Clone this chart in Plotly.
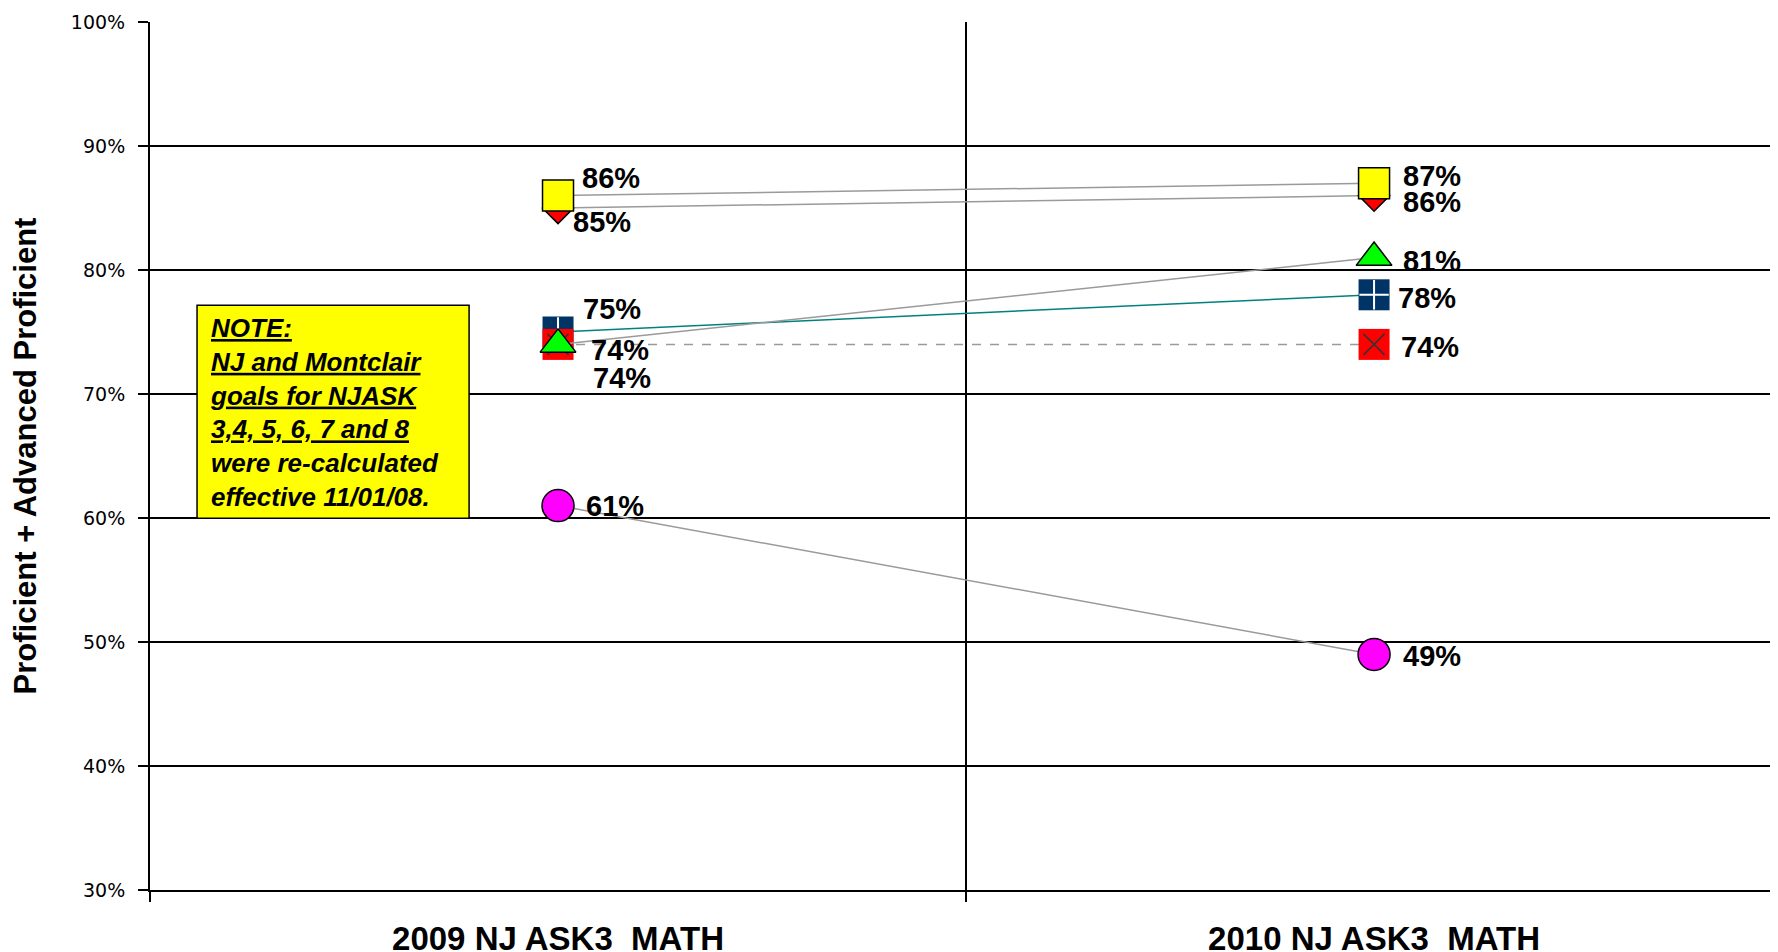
import plotly.graph_objects as go

# categories and values (fractions)
categories = ["2009 NJ ASK3\u00a0 MATH", "2010 NJ ASK3\u00a0 MATH"]
yellow_sq = [0.86, 0.87]
red_diamond = [0.85, 0.86]
navy_sq = [0.75, 0.78]
red_x = [0.74, 0.74]
green_tri = [0.74, 0.81]
magenta_circ = [0.61, 0.49]

y_ticks = [0.3, 0.4, 0.5, 0.6, 0.7, 0.8, 0.9, 1.0]

note_lines = ["<u>NOTE:</u>", "<u>NJ and Montclair</u>", "<u>goals for NJASK</u>",
              "<u>3,4, 5, 6, 7 and 8</u>", "were re-calculated", "effective 11/01/08."]

GRAY = "#9a9a9a"
ARIAL = "Liberation Sans, Arial, sans-serif"

fig = go.Figure()


def series(vals, line, marker, name):
    fig.add_trace(go.Scatter(x=categories, y=vals, mode="lines+markers", name=name,
                             line=line, marker=marker, hoverinfo="skip"))


def overlay(vals, marker):
    fig.add_trace(go.Scatter(x=categories, y=vals, mode="markers", marker=marker,
                             hoverinfo="skip", showlegend=False))


series(magenta_circ, dict(color=GRAY, width=1.5),
       dict(symbol="circle", size=32, color="#ff00ff", line=dict(color="black", width=1.5)), "s6")
series(red_diamond, dict(color=GRAY, width=1.5),
       dict(symbol="diamond", size=24, color="#ff0000", line=dict(color="black", width=1.5)), "s2")
series(yellow_sq, dict(color=GRAY, width=1.5),
       dict(symbol="square", size=31, color="#ffff00", line=dict(color="black", width=1.5)), "s1")
series(navy_sq, dict(color="#008080", width=1.5),
       dict(symbol="square", size=31, color="#003366", line=dict(width=0)), "s4")
overlay(navy_sq, dict(symbol="cross-thin", size=21, line=dict(color="white", width=2)))
series(red_x, dict(color=GRAY, width=1.5, dash="dash"),
       dict(symbol="square", size=31, color="#ff0000", line=dict(width=0)), "s5")
overlay(red_x, dict(symbol="x-thin", size=21, line=dict(color="#333333", width=1.5)))
series(green_tri, dict(color=GRAY, width=1.5),
       dict(symbol="triangle-up", size=31, color="#00ff00", line=dict(color="black", width=1.5)), "s3")

# value labels: (values, [(xshift, yshift) per category])
label_specs = [
    (yellow_sq, [(22, 18), (27, 7)]),
    (red_diamond, [(13, -14), (27, -6)]),
    (navy_sq, [(23, 23), (22, -3)]),
    (red_x, [(31, -6), (25, -3)]),
    (green_tri, [(33, -34), (27, -3)]),
    (magenta_circ, [(26, 0), (27, -2)]),
]
for vals, shifts in label_specs:
    for cat, v, (dx, dy) in zip(categories, vals, shifts):
        fig.add_annotation(x=cat, y=v, xref="x", yref="y", text=f"{v:.0%}",
                           showarrow=False, xanchor="left", yanchor="middle",
                           xshift=dx, yshift=dy,
                           font=dict(family=ARIAL, size=29, color="black", weight="bold"))

# note box
fig.add_shape(type="rect", xref="paper", yref="paper", x0=0.0289, x1=0.196, y0=0.4283, y1=0.6736,
              fillcolor="#ffff00", line=dict(color="black", width=1.5), layer="above")
fig.add_annotation(xref="paper", yref="paper", x=0.0355, y=0.5498, xanchor="left", yanchor="middle",
                   align="left", showarrow=False, text="<br>".join(note_lines),
                   font=dict(family=ARIAL, size=26, color="black", weight="bold", style="italic"))

fig.update_layout(
    width=1778, height=952,
    margin=dict(l=142, r=8, t=14, b=70),
    paper_bgcolor="white", plot_bgcolor="white",
    showlegend=False,
    xaxis=dict(type="category", range=[-0.5, 1.495], tickson="boundaries", automargin=False,
               showgrid=True, gridcolor="black", gridwidth=1.5,
               showline=True, linecolor="black", linewidth=2,
               ticks="outside", ticklen=10, tickcolor="black", tickwidth=1.5,
               ticklabelstandoff=18,
               tickfont=dict(family=ARIAL, size=33, color="black", weight="bold")),
    yaxis=dict(range=[0.3, 1.0], tickvals=y_ticks, tickformat=".0%", automargin=False,
               showgrid=True, gridcolor="black", gridwidth=1.5, zeroline=False,
               showline=True, linecolor="black", linewidth=2,
               ticks="outside", ticklen=10, tickcolor="black", tickwidth=1.5,
               ticklabelstandoff=9,
               tickfont=dict(family="DejaVu Sans, sans-serif", size=19, color="black"),
               title=dict(text="Proficient + Advanced Proficient", standoff=27,
                          font=dict(family=ARIAL, size=31, color="black", weight="bold"))),
)

fig.write_html("out.html")
